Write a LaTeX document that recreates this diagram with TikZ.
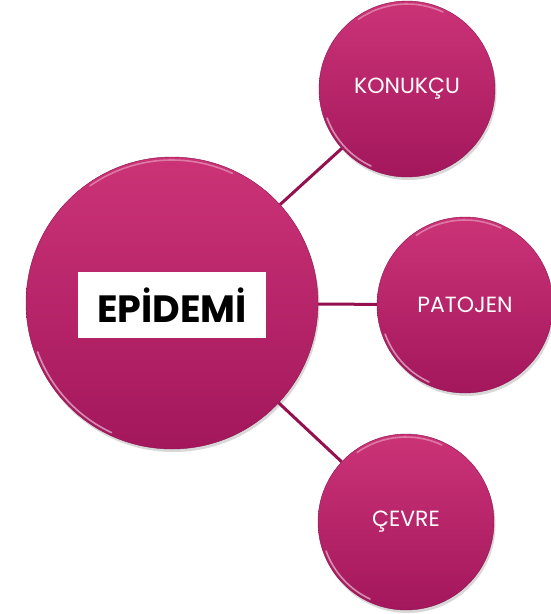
\documentclass[tikz,border=0pt]{standalone}
\usepackage{fontspec}
\setmainfont{Poppins}
\usetikzlibrary{shadows}

\definecolor{bubbletop}{HTML}{CC3377}
\definecolor{bubblebot}{HTML}{A3175C}
\definecolor{linkcol}{HTML}{94104F}

\tikzset{
  bubble/.style={circle,inner sep=0pt,draw=bubblebot!85!black,line width=.4pt,
    top color=bubbletop,bottom color=bubblebot,
    drop shadow={shadow xshift=1.5pt,shadow yshift=-3pt,opacity=.22,fill=black!70},
    text=white,font=\fontsize{22}{24}\selectfont},
  link/.style={draw=linkcol,line width=3pt},
  rim/.style={draw=white,line width=1.6pt,opacity=.5,line cap=round}
}

\begin{document}
\begin{tikzpicture}[x=1pt,y=-1pt]
        \useasboundingbox (0,0) rectangle (550,614);
        % circles
        \node[bubble,minimum size=292pt] (epidemi) at (172,303) {};
        \node[bubble,minimum size=176pt] (konukcu) at (407,89) {KONUKÇU};
        \node[bubble,minimum size=176pt] (patojen) at (465,305) {PATOJEN};
        \node[bubble,minimum size=176pt] (cevre) at (406,522) {ÇEVRE};
        \node[fill=white,minimum width=188pt,minimum height=66pt,
          font=\bfseries\fontsize{38}{40}\selectfont] (baslik) at (172,305) {EPİDEMİ};
        % connectors
        \draw[link] (epidemi) -- (konukcu);
        \draw[link] (epidemi) -- (patojen);
        \draw[link] (epidemi) -- (cevre);
        % glossy rims (angles on the page, pt units)
        \foreach \n/\r in {epidemi/143,konukcu/85,patojen/85,cevre/85}{
          \draw[rim] (\n.center) ++(200:\r pt) arc[start angle=200,end angle=245,radius=\r pt];
          \draw[rim,opacity=.35] (\n.center) ++(65:\r pt) arc[start angle=65,end angle=125,radius=\r pt];
        }
      \end{tikzpicture}
\end{document}
